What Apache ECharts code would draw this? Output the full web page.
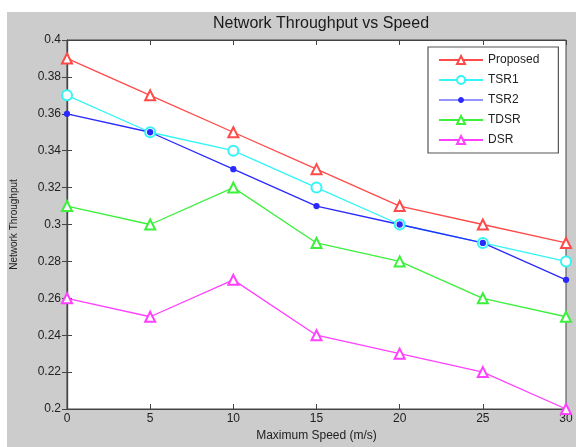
<!DOCTYPE html>
<html><head><meta charset="utf-8">
<script src="https://cdn.jsdelivr.net/npm/echarts@6/dist/echarts.min.js"></script>
<style>
html,body{margin:0;padding:0;background:#fff;}
#wrap{position:relative;width:576px;height:447px;background:#fff;}
#bg{position:absolute;left:7px;top:12px;width:569px;height:435px;background:#cccccc;}
#chart{position:absolute;left:0;top:0;width:576px;height:447px;}
</style></head>
<body><div id="wrap"><div id="bg"></div><div id="chart"></div></div>
<script>
var speeds = [0, 5, 10, 15, 20, 25, 30];
var seriesNames = ['Proposed', 'TSR1', 'TSR2', 'TDSR', 'DSR'];
var proposed = [0.39, 0.37, 0.35, 0.33, 0.31, 0.30, 0.29];
var tsr1 = [0.37, 0.35, 0.34, 0.32, 0.30, 0.29, 0.28];
var tsr2 = [0.36, 0.35, 0.33, 0.31, 0.30, 0.29, 0.27];
var tdsr = [0.31, 0.30, 0.32, 0.29, 0.28, 0.26, 0.25];
var dsr = [0.26, 0.25, 0.27, 0.24, 0.23, 0.22, 0.20];

var values = [proposed, tsr1, tsr2, tdsr, dsr];
var colors = ['#ff4a4a', '#33f5f5', '#2a2aff', '#3cf03c', '#ff40ff'];
var symbols = ['emptyTriangle', 'emptyCircle', 'circle', 'emptyTriangle', 'emptyTriangle'];
var sizes = [10, 10, 5, 10, 10];
var font = 'Liberation Sans, Arial, sans-serif';

function pairs(arr){ return speeds.map(function(s,i){ return [s, arr[i]]; }); }

var series = seriesNames.map(function(n, k){
  return {
    name: n, type: 'line', data: pairs(values[k]),
    symbol: symbols[k], symbolSize: sizes[k],
    lineStyle: {color: colors[k], width: 1.3},
    itemStyle: {color: colors[k], borderColor: colors[k], borderWidth: 1.3},
    animation: false, xAxisIndex: 0, yAxisIndex: 0
  };
});

// TSR2 legend icon: line with a small dot
var dotIcon = 'path://M0,5L44,5 M19.5,5a2.5,2.5 0 1,0 5,0a2.5,2.5 0 1,0 -5,0z';
var legendData = seriesNames.map(function(n){
  return n === 'TSR2' ? {name: n, icon: dotIcon, itemStyle: {borderWidth: 1}} : {name: n};
});

var axisLine = {show: true, lineStyle: {color: '#444', width: 1.2}};
var chart = echarts.init(document.getElementById('chart'));
chart.setOption({
  backgroundColor: 'transparent',
  animation: false,
  title: {
    text: 'Network Throughput vs Speed', left: 316, top: 11, textAlign: 'center',
    textStyle: {fontFamily: font, fontSize: 16, fontWeight: 'normal', color: '#1a1a1a'}
  },
  grid: {left: 67, right: 10, top: 40, bottom: 36, show: true, backgroundColor: '#fff', borderColor: '#444', borderWidth: 1},
  legend: {
    orient: 'vertical', left: 428, top: 47,
    backgroundColor: '#fff', borderColor: '#555', borderWidth: 1.2,
    padding: [6, 19, 6, 10], itemGap: 6, itemWidth: 44, itemHeight: 10,
    symbolKeepAspect: true,
    textStyle: {fontFamily: font, fontSize: 12, color: '#222', lineHeight: 14},
    data: legendData
  },
  xAxis: [{
    type: 'value', min: 0, max: 30, interval: 5, position: 'bottom',
    name: 'Maximum Speed (m/s)', nameLocation: 'middle', nameGap: 21,
    nameTextStyle: {fontFamily: font, fontSize: 12, color: '#222'},
    axisLine: axisLine, axisTick: {show: true, inside: true, length: 5, lineStyle: {color: '#444'}},
    axisLabel: {fontFamily: font, fontSize: 12, color: '#222', margin: 4},
    splitLine: {show: false}
  }, {
    type: 'value', min: 0, max: 30, interval: 5, position: 'top',
    axisLine: axisLine, axisTick: {show: true, inside: true, length: 5, lineStyle: {color: '#444'}},
    axisLabel: {show: false}, splitLine: {show: false}
  }],
  yAxis: [{
    type: 'value', min: 0.2, max: 0.4, interval: 0.02, position: 'left',
    name: 'Network Throughput', nameLocation: 'middle', nameGap: 48,
    nameTextStyle: {fontFamily: font, fontSize: 10, color: '#222'},
    axisLine: axisLine, axisTick: {show: true, inside: true, length: 5, lineStyle: {color: '#444'}},
    axisLabel: {fontFamily: font, fontSize: 12, color: '#222', margin: 6},
    splitLine: {show: false}
  }, {
    type: 'value', min: 0.2, max: 0.4, interval: 0.02, position: 'right',
    axisLine: axisLine, axisTick: {show: true, inside: true, length: 5, lineStyle: {color: '#444'}},
    axisLabel: {show: false}, splitLine: {show: false}
  }],
  series: series
});
</script></body></html>
